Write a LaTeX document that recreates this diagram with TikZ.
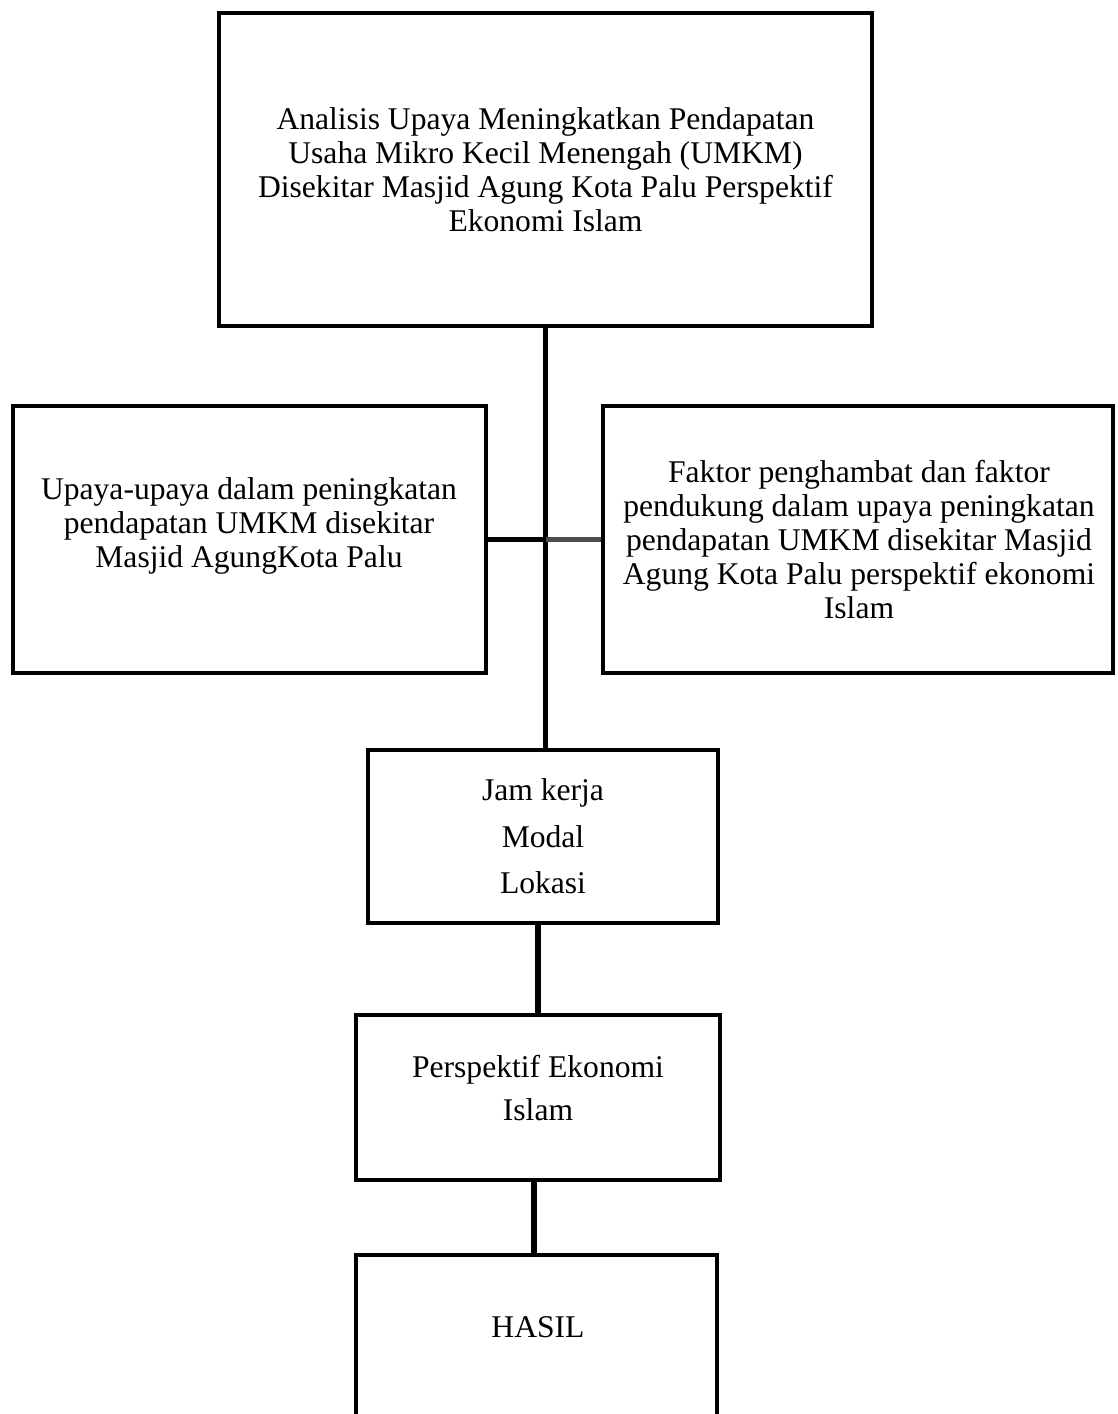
\documentclass[tikz,border=0pt]{standalone}
\usepackage{fontspec}
\setmainfont{Liberation Serif}
\begin{document}
\begin{tikzpicture}[x=1pt,y=-1pt,
  box/.style={draw=black, line width=4pt, fill=white, inner sep=0pt, anchor=center},
  txt/.style={align=center, inner sep=0pt, font=\fontsize{31.6}{34}\selectfont},
  conn/.style={line width=5.5pt, black},
  side/.style={line width=5pt, black},
  sidegray/.style={line width=5.5pt, color=black!70}]
\clip (0,0) rectangle (1117,1414);
\fill[white] (0,0) rectangle (1117,1414);

% boxes
\node[box, minimum width=653pt, minimum height=313pt] (top) at (545.5,169.5) {};
\node[box, minimum width=473pt, minimum height=267pt] (left) at (249,539.5) {};
\node[box, minimum width=510pt, minimum height=267pt] (right) at (858,539.5) {};
\node[box, minimum width=350pt, minimum height=173pt] (jam) at (543,836.5) {};
\node[box, minimum width=364pt, minimum height=165pt] (persp) at (538,1097.5) {};
\node[box, minimum width=361pt, minimum height=250pt] (hasil) at (536,1380) {};

% connectors
\draw[conn] (top.south) -- (top.south |- jam.north);
\draw[side] (left.east) -- (left.east -| top.south);
\draw[sidegray] (right.west) -- (right.west -| top.south);
\draw[conn] (persp.north |- jam.south) -- (persp.north);
\draw[conn] ([xshift=-2pt]hasil.north |- persp.south) -- ([xshift=-2pt]hasil.north);

% texts
\node[txt] (ttop) at (top.center) {Analisis Upaya Meningkatkan Pendapatan\\Usaha Mikro Kecil Menengah (UMKM)\\Disekitar Masjid Agung Kota Palu Perspektif\\Ekonomi Islam};
\node[txt] (tleft) at ([yshift=14pt]left.center) {Upaya-upaya dalam peningkatan\\pendapatan UMKM disekitar\\Masjid AgungKota Palu};
\node[txt] (tright) at ([xshift=1pt]right.center) {Faktor penghambat dan faktor\\pendukung dalam upaya peningkatan\\pendapatan UMKM disekitar Masjid\\Agung Kota Palu perspektif ekonomi\\Islam};
\node[txt, font=\fontsize{31.6}{46.5}\selectfont] (tjam) at (jam.center) {Jam kerja\\Modal\\Lokasi};
\node[txt, font=\fontsize{31.6}{43}\selectfont] (tpersp) at ([yshift=9pt]persp.center) {Perspektif Ekonomi\\Islam};
\node[txt] (thasil) at (538,1327) {HASIL};
\end{tikzpicture}
\end{document}
